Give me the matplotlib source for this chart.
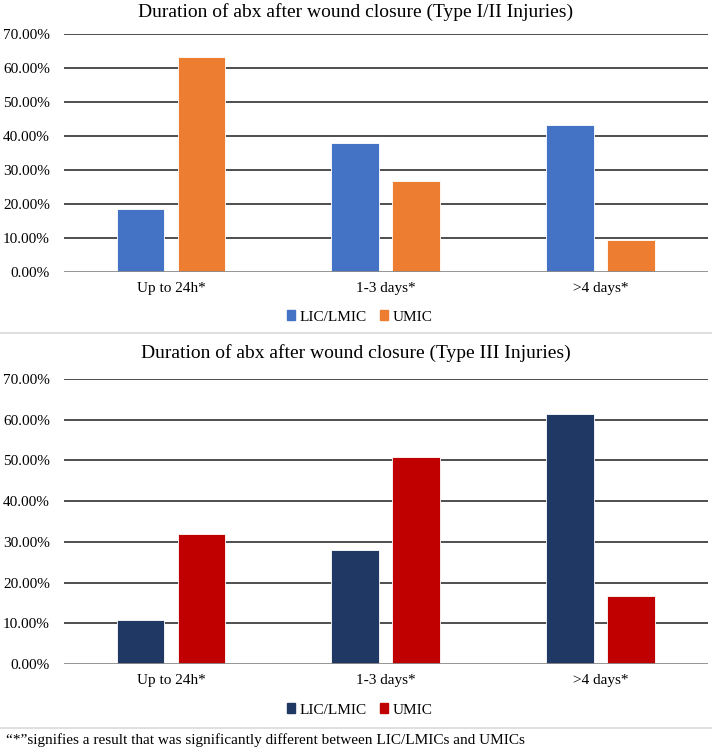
import matplotlib
matplotlib.use('Agg')
import matplotlib.pyplot as plt
import matplotlib.ticker as mticker
from matplotlib.patches import Patch
from matplotlib.lines import Line2D
import numpy as np

# data (percent of respondents)
categories = ['Up to 24h*', '1-3 days*', '>4 days*']
series_names = ['LIC/LMIC', 'UMIC']
type12_lic = [18.5, 38.0, 43.3]
type12_umic = [63.3, 26.8, 9.5]
type3_lic = [10.7, 27.9, 61.3]
type3_umic = [32.0, 50.8, 16.8]
y_ticks = [0, 10, 20, 30, 40, 50, 60, 70]

BLUE = '#4472C4'
ORANGE = '#ED7D31'
NAVY = '#203864'
RED = '#C00000'
GRID = '#404040'
SEP = '#D9D9D9'

plt.rcParams['font.family'] = ['Liberation Serif', 'DejaVu Serif']

fig = plt.figure(figsize=(7.12, 7.50), dpi=100)
fig.patch.set_facecolor('white')

ax_left = 63.5 / 712
ax_w = (708 - 63.5) / 712


def _draw_panel(ax, lic, umic, colors, title, title_y):
    x = np.arange(len(categories))
    w = 0.222
    off = 0.142
    ax.bar(x - off, lic, w, color=colors[0], edgecolor='white', linewidth=0.6, zorder=3)
    ax.bar(x + off, umic, w, color=colors[1], edgecolor='white', linewidth=0.6, zorder=3)
    ax.set_xlim(-0.5, 2.5)
    ax.set_ylim(0, 70)
    ax.set_yticks(y_ticks)
    ax.yaxis.set_major_formatter(mticker.FuncFormatter(lambda v, _p: f'{v:.2f}%'))
    ax.set_xticks(x)
    ax.set_xticklabels(categories)
    for s in ax.spines.values():
        s.set_visible(False)
    ax.tick_params(axis='both', length=0, labelsize=11, colors='#000000')
    ax.tick_params(axis='y', pad=9.7)
    ax.tick_params(axis='x', pad=7.5)
    for t in y_ticks[1:]:
        ax.axhline(t, color=GRID, linewidth=1.3, zorder=1)
    ax.axhline(0, color='#8C8C8C', linewidth=1.3, zorder=4)
    fig.text(0.5, title_y, title, ha='center', va='center', fontsize=14)


def _legend(colors, y):
    fig.legend(handles=[Patch(color=colors[0], label=series_names[0]),
                        Patch(color=colors[1], label=series_names[1])],
               loc='center', bbox_to_anchor=(0.505, y), ncol=2, frameon=False,
               fontsize=11, handlelength=0.55, handleheight=0.55, handletextpad=0.25,
               columnspacing=0.9)


ax1 = fig.add_axes([ax_left, 1 - 272 / 750, ax_w, (272 - 34) / 750])
_draw_panel(ax1, type12_lic, type12_umic, [BLUE, ORANGE],
            'Duration of abx after wound closure (Type I/II Injuries)', 1 - 12 / 750)
_legend([BLUE, ORANGE], 1 - 317 / 750)

ax2 = fig.add_axes([ax_left, 1 - 664 / 750, ax_w, (664 - 379) / 750])
_draw_panel(ax2, type3_lic, type3_umic, [NAVY, RED],
            'Duration of abx after wound closure (Type III Injuries)', 1 - 353 / 750)
_legend([NAVY, RED], 1 - 710 / 750)

# separators
for yy in [333, 728]:
    fig.add_artist(Line2D([0, 1], [1 - yy / 750, 1 - yy / 750], color=SEP, linewidth=1.2))

fig.text(0.008, 1 - 740 / 750,
         '\u201c*\u201dsignifies a result that was significantly different between LIC/LMICs and UMICs',
         ha='left', va='center', fontsize=11)

fig.savefig('out.png', dpi=100, facecolor='white')
